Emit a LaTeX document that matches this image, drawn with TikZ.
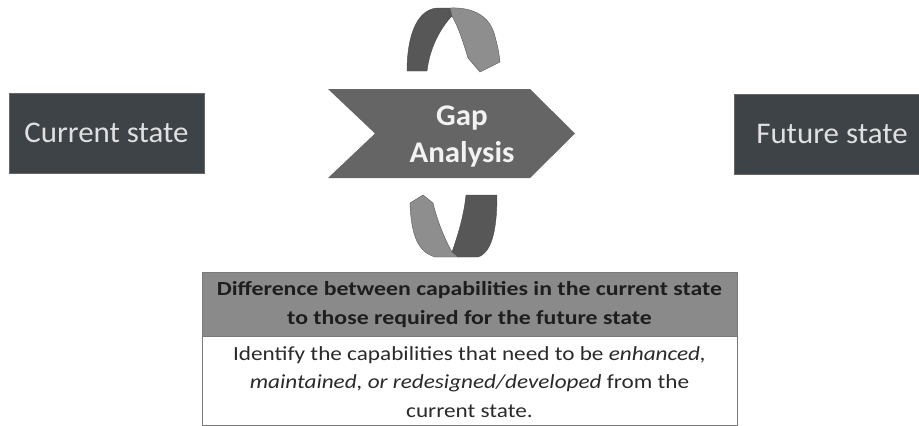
\documentclass[tikz,border=0pt]{standalone}
\usepackage{fontspec}
\setmainfont{Carlito}
\newfontfamily\hdrfont[FakeStretch=1.19]{Carlito}
\newfontfamily\bodyfont[FakeStretch=1.16]{Carlito}
\newfontfamily\boxfont[FakeStretch=1.03]{Carlito}
\definecolor{boxdark}{HTML}{3E4347}
\definecolor{chev}{HTML}{656565}
\definecolor{arrdark}{HTML}{575757}
\definecolor{arrlight}{HTML}{8E8E8E}
\definecolor{hdr}{HTML}{8A8A8A}
\definecolor{hdrtext}{HTML}{1E1E1E}
\definecolor{bodytext}{HTML}{2A2A2A}
\definecolor{rule}{HTML}{7A7A7A}
\begin{document}
\begin{tikzpicture}[x=1pt,y=-1pt,
  statebox/.style={fill=boxdark,draw=black!60,line width=0.6pt,minimum width=195pt,minimum height=80pt,
    text=white!88!black,font=\boxfont\fontsize{30}{36}\selectfont,inner sep=0pt},
  chevtext/.style={text=white!95!black,font=\boxfont\fontsize{30}{37}\selectfont\bfseries,align=center,inner sep=0pt},
  hdrbox/.style={fill=hdr,draw=rule,line width=0.8pt},
  bodybox/.style={fill=white,draw=rule,line width=0.8pt},
  hdrlabel/.style={text=hdrtext,font=\hdrfont\fontsize{20}{29}\selectfont\bfseries,align=center,inner sep=0pt},
  bodylabel/.style={text=bodytext,font=\bodyfont\fontsize{20}{28.5}\selectfont,align=center,inner sep=0pt},
  darkpart/.style={fill=arrdark,draw=arrdark!80!black,line width=0.4pt},
  lightpart/.style={fill=arrlight,draw=arrdark,line width=0.4pt}]
\useasboundingbox (0,0) rectangle (919,426);

% state boxes
\node[statebox] (cur) at (106.5,133) {Current state};
\node[statebox] (fut) at (832,134) {Future state};

% chevron
\path[fill=chev] (328,89) -- (530,89) -- (575,133.5) -- (530,178) -- (328,178) -- (375,133.5) -- cycle;
\node[chevtext] (gap) at (462,137) {Gap\\Analysis};

% top curved arrow
\path[darkpart] (407,71) .. controls (407,40) and (415,10) .. (437,8) -- (450,8) -- (452,16)
   .. controls (443,25) and (430,45) .. (427,71) -- cycle;
\path[lightpart] (450,8) .. controls (470,7) and (488,14) .. (494,33) .. controls (497,43) and (499,52) .. (500,62)
   -- (480,72) -- (468,58) .. controls (464,45) and (459,28) .. (452,16) -- cycle;

% bottom curved arrow
\path[darkpart] (466,195) -- (497,195) .. controls (497,222) and (494,252) .. (478,257) -- (458,257) -- (452,252)
   .. controls (458,235) and (464,215) .. (466,195) -- cycle;
\path[lightpart] (423,195) -- (433,203) .. controls (437,220) and (445,240) .. (452,252) -- (458,257) -- (435,257)
   .. controls (418,252) and (411,235) .. (410,203) -- cycle;

% table
\path[hdrbox] (202,272) rectangle (737,336);
\path[bodybox] (202,336) rectangle (737,425);
\node[hdrlabel] (hdr) at (469.5,305) {Difference between capabilities in the current state\\to those required for the future state};
\node[bodylabel] (body) at (469.5,382) {Identify the capabilities that need to be \textit{enhanced,}\\\textit{maintained, or redesigned/developed} from the\\current state.};
\end{tikzpicture}
\end{document}
